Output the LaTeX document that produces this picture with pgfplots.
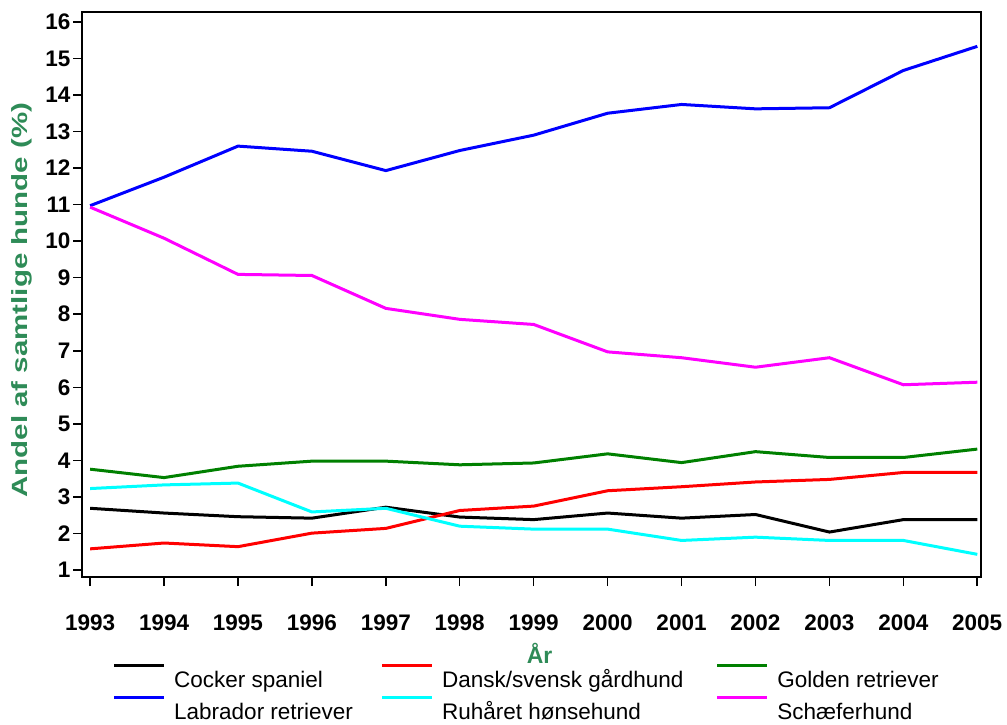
\documentclass[border=0pt]{standalone}
\usepackage{fontspec}
\setmainfont{Liberation Sans}
\usepackage{pgfplots}
\pgfplotsset{compat=1.18}
\definecolor{labgreen}{RGB}{46,139,87}
\definecolor{goldgreen}{RGB}{0,128,0}
\definecolor{scmag}{RGB}{255,0,255}
\definecolor{rhcyan}{RGB}{0,255,255}
\definecolor{labblue}{RGB}{0,0,255}
\definecolor{dsred}{RGB}{255,0,0}

\begin{document}
\begin{tikzpicture}
\begin{axis}[
    name=ax,
    scale only axis,
    width=899pt, height=565pt,
    xmin=1992.89, xmax=2005.05,
    ymin=0.81, ymax=16.27,
    xtick={1993,...,2005},
    ytick={1,...,16},
    xticklabel style={/pgf/number format/1000 sep={}},
    /pgf/number format/assume math mode=true,
    tick pos=left,
    tick align=outside,
    major tick length=9pt,
    tick style={line width=1.5pt, black},
    axis line style={line width=1.5pt},
    ticklabel style={font=\fontsize{22.5}{22.5}\selectfont\bfseries},
    xticklabel style={yshift=-25pt},
    yticklabel style={xshift=1pt},
    xlabel={År},
    ylabel={Andel af samtlige hunde (\%)},
    every axis x label/.style={at={(axis description cs:0.509,-0.135)}, anchor=center,
        font=\fontsize{23}{23}\selectfont\bfseries, text=labgreen},
    every axis y label/.style={at={(axis description cs:-0.0667,0.49)}, anchor=center,
        rotate=90, xscale=1.34,
        font=\fontsize{22}{22}\selectfont\bfseries, text=labgreen},
    legend columns=3,
    legend cell align=left,
    legend style={draw=none, inner sep=0pt, at={(axis description cs:0.0356,-0.169)}, anchor=north west,
        font=\fontsize{22.5}{22.5}\selectfont,
        nodes={inner sep=0pt, text height=15pt, text depth=0pt},
        row sep=17pt,
        /tikz/column 2/.style={column sep=29pt},
        /tikz/column 4/.style={column sep=34pt}},
    legend image code/.code={\draw[#1,overlay] (0pt,15pt) -- (50pt,15pt); \path[draw=none] (0pt,0pt) -- (60pt,0pt);},
    every axis plot/.append style={line width=3pt},
]

% Cocker spaniel
\addplot[black] coordinates {
 (1993,2.69)(1994,2.56)(1995,2.46)(1996,2.42)(1997,2.72)(1998,2.45)(1999,2.38)
 (2000,2.56)(2001,2.42)(2002,2.52)(2003,2.04)(2004,2.38)(2005,2.38)};
% Dansk/svensk gaardhund
\addplot[dsred] coordinates {
 (1993,1.58)(1994,1.74)(1995,1.64)(1996,2.01)(1997,2.14)(1998,2.63)(1999,2.75)
 (2000,3.17)(2001,3.28)(2002,3.41)(2003,3.48)(2004,3.67)(2005,3.67)};
% Golden retriever
\addplot[goldgreen] coordinates {
 (1993,3.76)(1994,3.53)(1995,3.84)(1996,3.98)(1997,3.98)(1998,3.88)(1999,3.93)
 (2000,4.18)(2001,3.94)(2002,4.24)(2003,4.08)(2004,4.08)(2005,4.31)};
% Labrador retriever
\addplot[labblue] coordinates {
 (1993,10.97)(1994,11.75)(1995,12.6)(1996,12.46)(1997,11.93)(1998,12.48)(1999,12.9)
 (2000,13.5)(2001,13.74)(2002,13.62)(2003,13.65)(2004,14.67)(2005,15.33)};
% Ruhaaret hoensehund
\addplot[rhcyan] coordinates {
 (1993,3.23)(1994,3.33)(1995,3.38)(1996,2.59)(1997,2.69)(1998,2.2)(1999,2.12)
 (2000,2.12)(2001,1.81)(2002,1.9)(2003,1.81)(2004,1.81)(2005,1.43)};
% Schaeferhund
\addplot[scmag] coordinates {
 (1993,10.93)(1994,10.08)(1995,9.09)(1996,9.06)(1997,8.16)(1998,7.86)(1999,7.72)
 (2000,6.97)(2001,6.81)(2002,6.55)(2003,6.81)(2004,6.07)(2005,6.14)};

\legend{Cocker spaniel, Dansk/svensk gårdhund, Golden retriever,
        Labrador retriever, Ruhåret hønsehund, Schæferhund}
\end{axis}
\pgfresetboundingbox
\path ([xshift=-82pt,yshift=-148pt]ax.south west) rectangle ([xshift=26pt,yshift=12pt]ax.north east);
\end{tikzpicture}
\end{document}
